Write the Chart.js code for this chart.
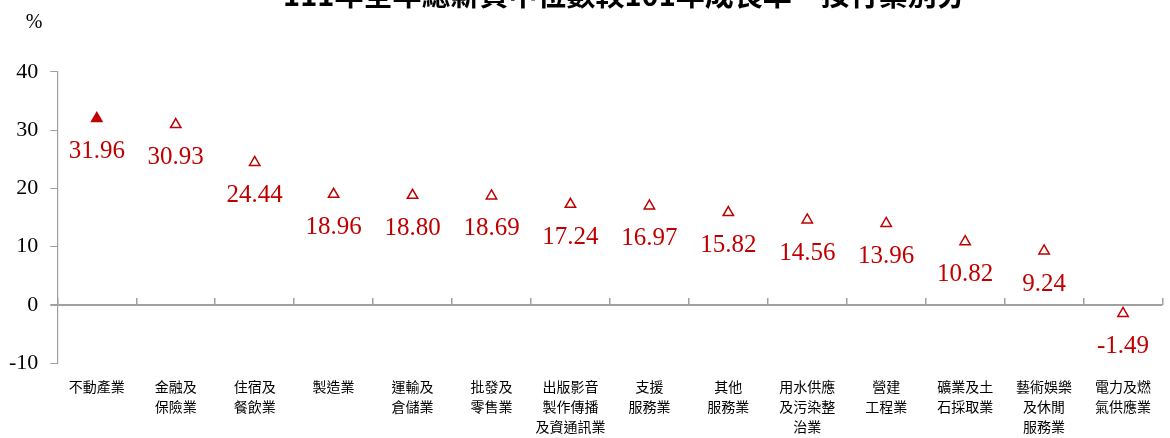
<!DOCTYPE html>
<html>
<head>
<meta charset="utf-8">
<script src="https://cdn.jsdelivr.net/npm/chart.js@4.4.1/dist/chart.umd.min.js"></script>
<style>
  html, body { margin: 0; padding: 0; background: #fff; overflow: hidden; }
  #wrap { position: absolute; left: -12px; top: -22px; width: 1182px; height: 473px; }
</style>
</head>
<body>
<div id="wrap"><canvas id="myChart" width="1182" height="473"></canvas></div>
<script>
// categories (multi-line tick labels)
var categories = [
   ['不動產業'],
   ['金融及', '保險業'],
   ['住宿及', '餐飲業'],
   ['製造業'],
   ['運輸及', '倉儲業'],
   ['批發及', '零售業'],
   ['出版影音', '製作傳播', '及資通訊業'],
   ['支援', '服務業'],
   ['其他', '服務業'],
   ['用水供應', '及污染整', '治業'],
   ['營建', '工程業'],
   ['礦業及土', '石採取業'],
   ['藝術娛樂', '及休閒', '服務業'],
   ['電力及燃', '氣供應業']
];
var growth = [31.96, 30.93, 24.44, 18.96, 18.80, 18.69, 17.24, 16.97, 15.82, 14.56, 13.96, 10.82, 9.24, -1.49];
var yTicks = [-10, 0, 10, 20, 30, 40];
var titleText = '　111年全年總薪資中位數較101年成長率－按行業別分';
var unitText = '%';

var red = '#C00000';
var axisGray = '#A0A0A0';

var pointFills = growth.map(function(v, i) {
   return i === 0 ? red : '#ffffff';
});

// value labels under each marker
var valueLabels = {
   id: 'valueLabels',
   afterDatasetsDraw: function(chart) {
      var ctx = chart.ctx;
      var meta = chart.getDatasetMeta(0);
      ctx.save();
      ctx.font = '25px "Liberation Serif", "Times New Roman", serif';
      ctx.fillStyle = red;
      ctx.textAlign = 'center';
      ctx.textBaseline = 'middle';
      meta.data.forEach(function(pt, i) {
         ctx.fillText(growth[i].toFixed(2), pt.x, pt.y + 33);
      });
      ctx.restore();
   }
};

// unit mark above the y axis
var unitLabel = {
   id: 'unitLabel',
   afterDraw: function(chart) {
      var ctx = chart.ctx;
      var y = chart.scales.y;
      ctx.save();
      ctx.font = '20px "Liberation Serif", serif';
      ctx.fillStyle = '#000';
      ctx.textAlign = 'center';
      ctx.textBaseline = 'middle';
      ctx.fillText(unitText, 46, y.getPixelForValue(40) - 49);
      ctx.restore();
   }
};

var ctx = document.getElementById('myChart').getContext('2d');
var chart = new Chart(ctx, {
   type: 'line',
   data: {
      labels: categories,
      datasets: [{
         data: growth,
         showLine: false,
         borderColor: red,
         pointStyle: 'triangle',
         pointRadius: 6,
         pointHoverRadius: 6,
         pointBorderWidth: 1.5,
         pointBorderColor: red,
         pointBackgroundColor: pointFills
      }]
   },
   options: {
      responsive: false,
      animation: false,
      layout: {
         padding: { left: 9, right: 0, top: 0, bottom: 0 }
      },
      plugins: {
         legend: { display: false },
         tooltip: { enabled: false },
         title: {
            display: true,
            text: titleText,
            fullSize: false,
            color: '#000',
            font: { family: '"Noto Sans CJK TC", sans-serif', size: 29, weight: 'bold', lineHeight: 1.2 },
            padding: { top: 0, bottom: 59 }
         }
      },
      scales: {
         x: {
            type: 'category',
            position: 'bottom',
            offset: true,
            grid: { display: false, drawTicks: false },
            border: { display: false },
            ticks: {
               autoSkip: false,
               maxRotation: 0,
               minRotation: 0,
               padding: 14,
               color: '#000',
               font: { family: '"Noto Sans CJK TC", sans-serif', size: 14, lineHeight: '20px' }
            }
         },
         x2: {
            type: 'category',
            labels: categories,
            position: { y: 0 },
            offset: true,
            grid: {
               offset: true,
               drawOnChartArea: false,
               drawTicks: true,
               tickLength: -7,
               color: axisGray,
               lineWidth: 1.5
            },
            border: { display: false },
            ticks: { display: false }
         },
         y: {
            min: yTicks[0],
            max: yTicks[yTicks.length - 1],
            afterBuildTicks: function(scale) {
               scale.ticks = yTicks.map(function(v) { return { value: v }; });
            },
            grid: {
               drawOnChartArea: true,
               color: function(c) { return c.tick && c.tick.value === 0 ? axisGray : 'rgba(0,0,0,0)'; },
               lineWidth: function(c) { return c.tick && c.tick.value === 0 ? 2 : 1; },
               tickColor: axisGray,
               tickLength: 7
            },
            border: { display: true, color: axisGray, width: 1.2 },
            ticks: {
               padding: 12,
               color: '#000',
               font: { family: '"Liberation Serif", "Times New Roman", serif', size: 22 }
            }
         }
      }
   },
   plugins: [valueLabels, unitLabel]
});
</script>
</body>
</html>
